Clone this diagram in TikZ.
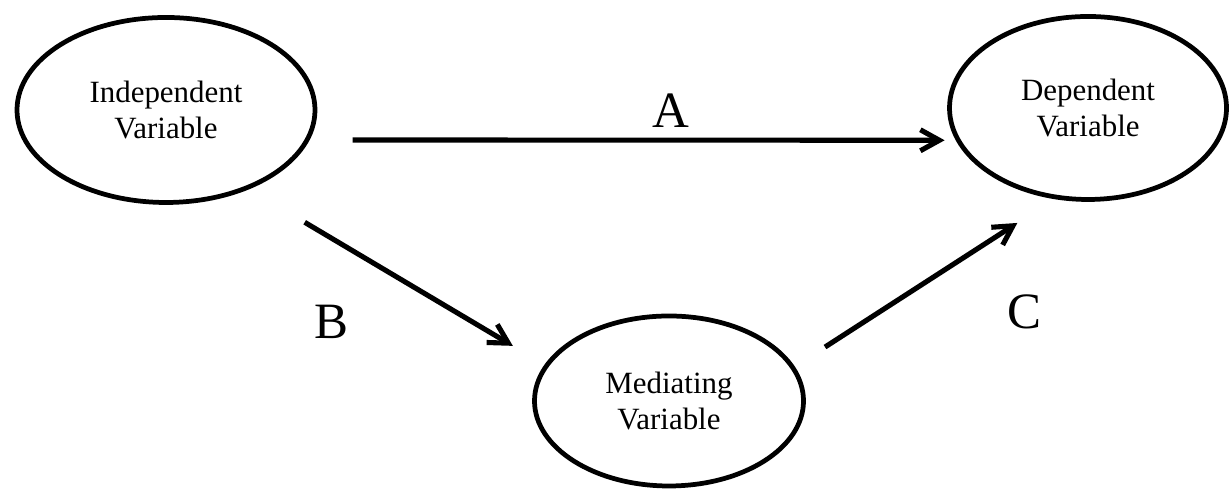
\documentclass[tikz,border=0pt]{standalone}
\usepackage{fontspec}
\setmainfont{Liberation Serif}
\usetikzlibrary{shapes.geometric,arrows.meta}
\begin{document}
\begin{tikzpicture}[
  var/.style={draw,ellipse,line width=1.35pt,inner sep=0pt,outer sep=0pt,align=center,font=\fontsize{8.8}{10.2}\selectfont},
  lbl/.style={font=\fontsize{14.5}{16}\selectfont},
  arr/.style={line width=1.45pt,-{Straight Barb[length=0.19cm,width=0.21cm]}}]
\useasboundingbox (0,0) rectangle (12.30,4.89);
\node[var,minimum width=2.98cm,minimum height=1.85cm] (iv) at (1.66,3.79) {Independent\\Variable};
\node[var,minimum width=2.77cm,minimum height=1.83cm] (dv) at (10.88,3.81) {Dependent\\Variable};
\node[var,minimum width=2.69cm,minimum height=1.70cm] (mv) at (6.69,0.88) {Mediating\\Variable};
% paths A, B, C
\draw[arr,shorten <=0.456cm,shorten >=0.138cm] (iv.-12.45) -- (dv.194.33);
\draw[arr,shorten <=0.676cm,shorten >=0.392cm] (iv.-44.9) -- (mv.164.6);
\draw[arr,shorten <=0.383cm,shorten >=0.475cm] (mv.15.05) -- (dv.251.4);
\node[lbl] (a) at (6.71,3.78) {A};
\node[lbl] (b) at (3.31,1.675) {B};
\node[lbl] (c) at (10.24,1.77) {C};
\end{tikzpicture}
\end{document}
